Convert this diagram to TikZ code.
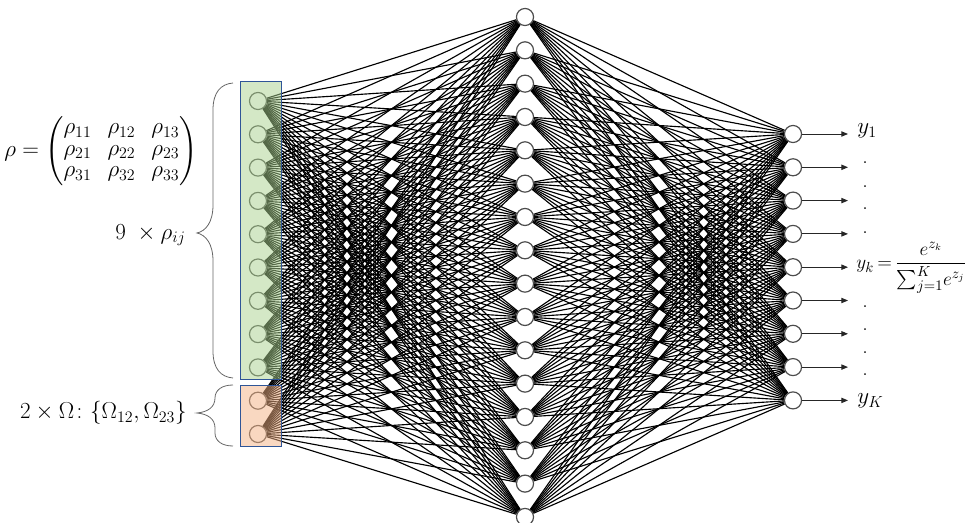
\documentclass[tikz,border=0pt]{standalone}
\usepackage{amsmath}
\usetikzlibrary{arrows.meta}
\pgfdeclarelayer{links}
\pgfdeclarelayer{tint}
\pgfsetlayers{links,main,tint}
\definecolor{tintgreen}{HTML}{A9D18E}
\definecolor{tintorange}{HTML}{F4B183}
\definecolor{frameblue}{HTML}{2F5597}
\begin{document}
\begin{tikzpicture}[x=0.75pt,y=-0.75pt,
  neuron/.style={circle,draw=black!70,line width=0.9pt,fill=white,minimum size=12.8pt,inner sep=0pt},
  link/.style={line width=0.85pt,black},
  outarrow/.style={line width=0.7pt,black!85,-{Triangle[length=5pt,width=4pt]}},
  lbl/.style={inner sep=0pt,font=\fontsize{16.5}{19}\selectfont},
  bracestroke/.style={line width=0.6pt,black!60},
  tintbox/.style={fill opacity=0.5},
  boxframe/.style={draw=frameblue,line width=0.6pt}]
\useasboundingbox (0,0) rectangle (969,523);

% layers of neurons
\foreach \i in {1,...,11} \node[neuron] (in\i) at (258,{101+33.3*(\i-1)}) {};
\foreach \i in {1,...,16} \node[neuron] (h\i) at (525,{17+33.33*(\i-1)}) {};
\foreach \i in {1,...,9} \node[neuron] (out\i) at (793,{134+33.3*(\i-1)}) {};

% full connections between layers
\begin{pgfonlayer}{links}
\foreach \i in {1,...,11} \foreach \j in {1,...,16} \draw[link] (in\i) -- (h\j);
\foreach \j in {1,...,16} \foreach \k in {1,...,9} \draw[link] (h\j) -- (out\k);
\end{pgfonlayer}

% tinted groups of input neurons
\begin{pgfonlayer}{tint}
\fill[tintgreen,tintbox] (240,81) rectangle (281,379);
\draw[boxframe] (240,81) rectangle (281,379);
\fill[tintorange,tintbox] (240,385) rectangle (281,446);
\draw[boxframe] (240,385) rectangle (281,446);
\end{pgfonlayer}

% output arrows
\foreach \k in {1,...,9} {
  \coordinate (tip\k) at (848,{134+33.3*(\k-1)});
  \draw[outarrow] (out\k) -- (tip\k);
}

% output labels
\node[lbl,anchor=west] (y1) at (857,131) {$y_1$};
\node[lbl,anchor=west,font=\fontsize{15}{18}\selectfont] (yk) at (856,268)
  {$\thickmuskip=3mu y_k=\dfrac{e^{z_k}}{\textstyle\sum_{j=1}^{K}\! e^{z_j}}$};
\node[lbl,anchor=west] (yK) at (857,401) {$y_K$};
\foreach \y [count=\n] in {163,187,209,233,307,330,353,375}
  \node[lbl] (dot\n) at (865,\y) {.};

% input labels
\node[lbl] (rho) at (101,151) {$\rho=\begingroup\setlength{\arraycolsep}{6pt}\renewcommand{\arraystretch}{0.85}\begin{pmatrix}
\rho_{11} & \rho_{12} & \rho_{13}\\
\rho_{21} & \rho_{22} & \rho_{23}\\
\rho_{31} & \rho_{32} & \rho_{33}
\end{pmatrix}\endgroup$};
\node[lbl,anchor=east] (nine) at (186,235) {$9\ \times\rho_{ij}$};
\node[lbl,anchor=east] (omega) at (187,413) {$2\times\Omega\colon\{\Omega_{12},\Omega_{23}\}$};

% braces
\draw[bracestroke] (233,83) .. controls (221,84) and (213,92) .. (213,110) -- (213,205)
  .. controls (213,222) and (206,231) .. (197,233)
  .. controls (206,235) and (213,244) .. (213,261) -- (213,351)
  .. controls (213,369) and (221,377) .. (233,378);
\draw[bracestroke] (233,385) .. controls (222,385) and (215,390) .. (215,398)
  .. controls (215,407) and (208,412) .. (197,413)
  .. controls (208,414) and (215,419) .. (215,428) -- (215,433)
  .. controls (215,441) and (222,446) .. (233,446);
\end{tikzpicture}
\end{document}
